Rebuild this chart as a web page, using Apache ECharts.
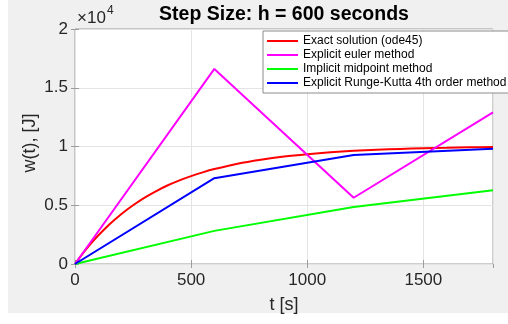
<!DOCTYPE html>
<html>
<head>
<meta charset="utf-8">
<script src="https://cdn.jsdelivr.net/npm/echarts@6/dist/echarts.min.js"></script>
<style>
  html, body { margin: 0; padding: 0; background: #ffffff; }
  #chart { width: 508px; height: 324px; }
</style>
</head>
<body>
<div id="chart"></div>
<script>
// Reference solution (ode45 output, resampled)
const exactTimes = [0, 25, 50, 75, 100, 150, 200, 250, 300, 350, 400, 450, 500, 550, 600, 700, 800, 900, 1000, 1100, 1200, 1300, 1400, 1500, 1600, 1700, 1800];
const exactValues = [0, 670, 1300, 1880, 2420, 3400, 4260, 5000, 5650, 6210, 6700, 7120, 7480, 7800, 8080, 8540, 8880, 9150, 9350, 9510, 9630, 9720, 9790, 9850, 9890, 9930, 9960];

// Fixed-step solutions, h = 600 s
const stepTimes = [0, 600, 1200, 1800];
const eulerValues = [0, 16600, 5640, 12900];
const midpointValues = [0, 2820, 4850, 6270];
const rk4Values = [0, 7300, 9270, 9800];

const seriesNames = [
  'Exact solution (ode45)',
  'Explicit euler method',
  'Implicit midpoint method',
  'Explicit Runge-Kutta 4th order method'
];
const seriesColors = ['#ff0000', '#ff00ff', '#00ff00', '#0000ff'];

const xTickStep = 500;
const yTickStep = 5000;
const yScale = 10000;

const titleText = 'Step Size: h = 600 seconds';
const xLabel = 't [s]';
const yLabel = 'w(t), [J]';

const font = 'Liberation Sans, Arial, Helvetica, sans-serif';
const axisGray = '#9c9c9c';
const textDark = '#262626';

function pairs(xs, ys) { return xs.map((x, i) => [x, ys[i]]); }

const chart = echarts.init(document.getElementById('chart'), null, { renderer: 'canvas' });

function lineSeries(idx, xs, ys, smooth) {
  return {
    name: seriesNames[idx],
    type: 'line',
    data: pairs(xs, ys),
    showSymbol: false,
    symbol: 'none',
    smooth: smooth || false,
    lineStyle: { color: seriesColors[idx], width: 2 },
    itemStyle: { color: seriesColors[idx] },
    xAxisIndex: 0,
    yAxisIndex: 0,
    z: 2 + idx
  };
}

const tickStyle = { show: true, inside: true, length: 4, lineStyle: { color: axisGray, width: 1 } };

const option = {
  animation: false,
  backgroundColor: '#f0f0f0',
  grid: {
    left: 75, right: 15, top: 29, bottom: 60,
    show: true,
    backgroundColor: '#ffffff',
    borderColor: axisGray,
    borderWidth: 1
  },
  xAxis: [
    {
      type: 'value', min: 0, max: 1800, interval: xTickStep,
      axisLine: { show: false },
      axisTick: tickStyle,
      axisLabel: {
        show: true, showMaxLabel: false, margin: 8, color: textDark, fontSize: 17, fontFamily: font,
        formatter: v => String(v)
      },
      splitLine: { show: true, lineStyle: { color: '#e4e4e4', width: 1 } }
    },
    {
      type: 'value', position: 'top', min: 0, max: 1800, interval: xTickStep,
      axisLine: { show: false },
      axisTick: tickStyle,
      axisLabel: { show: false },
      splitLine: { show: false }
    }
  ],
  yAxis: [
    {
      type: 'value', min: 0, max: 20000, interval: yTickStep,
      axisLine: { show: false },
      axisTick: tickStyle,
      axisLabel: {
        show: true, margin: 7, color: textDark, fontSize: 17, fontFamily: font,
        formatter: v => String(v / yScale)
      },
      splitLine: { show: true, lineStyle: { color: '#e4e4e4', width: 1 } }
    },
    {
      type: 'value', position: 'right', min: 0, max: 20000, interval: yTickStep,
      axisLine: { show: false },
      axisTick: tickStyle,
      axisLabel: { show: false },
      splitLine: { show: false }
    }
  ],
  legend: {
    orient: 'vertical',
    left: 263, top: 31,
    padding: [3, 5, 3, 4],
    itemGap: 0,
    itemWidth: 31,
    itemHeight: 2,
    icon: 'rect',
    backgroundColor: '#ffffff',
    borderColor: '#8c8c8c',
    borderWidth: 1,
    borderRadius: 0,
    textStyle: { color: '#000000', fontSize: 12, lineHeight: 14, fontFamily: font },
    data: seriesNames.map((n, i) => ({ name: n, itemStyle: { color: seriesColors[i] } }))
  },
  graphic: [
    { type: 'rect', shape: { x: 0, y: 0, width: 8, height: 324 }, style: { fill: '#ffffff' }, silent: true },
    { type: 'rect', shape: { x: 0, y: 313, width: 508, height: 11 }, style: { fill: '#ffffff' }, silent: true },
    {
      type: 'text', x: 284, y: 15,
      style: { text: titleText, fill: '#000000', font: 'bold 19.5px ' + font, textAlign: 'center', textVerticalAlign: 'middle' }
    },
    {
      type: 'text', x: 77, y: 18,
      style: { text: '\u00d710', fill: textDark, font: '17px ' + font, textAlign: 'left', textVerticalAlign: 'middle' }
    },
    {
      type: 'text', x: 107, y: 11,
      style: { text: '4', fill: textDark, font: '12px ' + font, textAlign: 'left', textVerticalAlign: 'middle' }
    },
    {
      type: 'text', x: 284, y: 305,
      style: { text: xLabel, fill: textDark, font: '18px ' + font, textAlign: 'center', textVerticalAlign: 'middle' }
    },
    {
      type: 'text', x: 30, y: 143, rotation: Math.PI / 2,
      style: { text: yLabel, fill: textDark, font: '18px ' + font, textAlign: 'center', textVerticalAlign: 'middle' }
    }
  ],
  series: [
    lineSeries(0, exactTimes, exactValues, 0.2),
    lineSeries(1, stepTimes, eulerValues),
    lineSeries(2, stepTimes, midpointValues),
    lineSeries(3, stepTimes, rk4Values)
  ]
};

chart.setOption(option);
</script>
</body>
</html>
